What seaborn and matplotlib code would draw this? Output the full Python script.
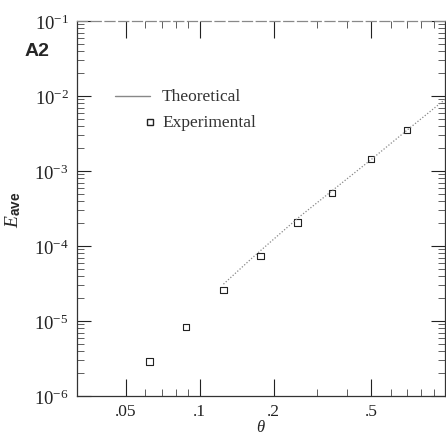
import matplotlib
matplotlib.use("Agg")
import matplotlib.pyplot as plt
import matplotlib.ticker as mticker
import seaborn as sns
import pandas as pd

# Data
theta_exp = [0.0625, 0.088, 0.125, 0.177, 0.25, 0.347, 0.50, 0.70]
E_exp = [2.9e-6, 8.3e-6, 2.6e-5, 7.4e-5, 2.05e-4, 5.1e-4, 1.45e-3, 3.5e-3]

theta_theory = [0.125, 0.165, 0.255, 0.50, 0.70, 1.0]
E_theory = [3.1e-5, 7.1e-5, 2.45e-4, 1.42e-3, 3.5e-3, 9.0e-3]

x_ticks = [0.05, 0.1, 0.2, 0.5]
x_ticklabels = [".05", ".1", ".2", ".5"]
y_ticks = [1e-6, 1e-5, 1e-4, 1e-3, 1e-2, 1e-1]
y_ticklabels = [r"$10^{-6}$", r"$10^{-5}$", r"$10^{-4}$", r"$10^{-3}$", r"$10^{-2}$", r"$10^{-1}$"]
legend_labels = ["Theoretical", "Experimental"]

sns.set_style("ticks")
plt.rcParams["font.family"] = ["Liberation Serif", "DejaVu Serif"]
plt.rcParams["mathtext.fontset"] = "custom"
plt.rcParams["mathtext.rm"] = "Liberation Serif"
plt.rcParams["mathtext.it"] = "Liberation Serif:italic"
plt.rcParams["mathtext.bf"] = "Liberation Sans:bold"

df_exp = pd.DataFrame({"theta": theta_exp, "E": E_exp})
df_th = pd.DataFrame({"theta": theta_theory, "E": E_theory})

fig = plt.figure(figsize=(4.46, 4.35), dpi=100)
ax = fig.add_axes([77 / 446, 1 - 397 / 435, 368 / 446, 375 / 435])

sns.lineplot(data=df_th, x="theta", y="E", ax=ax, color="#888888",
             linestyle=(0, (1, 1.5)), linewidth=0.9, legend=False)
sns.scatterplot(data=df_exp, x="theta", y="E", ax=ax, marker="s", s=22,
                facecolor="none", edgecolor="#222222", linewidth=0.8, legend=False)

ax.set_xscale("log")
ax.set_yscale("log")
ax.set_xlim(10 ** -1.5, 1.0)
ax.set_ylim(1e-6, 1e-1)

ax.set_xticks(x_ticks)
ax.set_xticklabels(x_ticklabels)
ax.xaxis.set_minor_locator(mticker.FixedLocator([0.06, 0.07, 0.08, 0.09, 0.3, 0.4, 0.6, 0.7, 0.8, 0.9]))
ax.xaxis.set_minor_formatter(mticker.NullFormatter())
ax.set_yticks(y_ticks)
ax.set_yticklabels(y_ticklabels)
ax.yaxis.set_minor_locator(mticker.LogLocator(base=10, subs=range(2, 10), numticks=20))
ax.yaxis.set_minor_formatter(mticker.NullFormatter())

ax.tick_params(axis="x", which="major", direction="in", length=12, width=0.8,
               top=True, labelsize=12.5, colors="#222222", pad=5)
ax.tick_params(axis="y", which="major", direction="in", length=10, width=0.8,
               right=True, labelsize=13.5, colors="#222222", pad=6)
ax.tick_params(axis="both", which="minor", direction="in", length=5, width=0.6,
               top=True, right=True, colors="#444444")
for sp in ax.spines.values():
    sp.set_linewidth(0.9)
    sp.set_color("#333333")
ax.spines["top"].set_color("#888888")
ax.spines["top"].set_linestyle((0, (8, 3)))

ax.set_xlabel(r"$\theta$", fontsize=12, labelpad=0)
ax.set_ylabel(r"$E_{\mathbf{ave}}$", fontsize=14, labelpad=8)

# legend drawn as key samples in axes coordinates
ax.plot([0.103, 0.198], [0.80, 0.80], transform=ax.transAxes, color="#888888",
        linewidth=1.0)
ax.plot([0.198], [0.731], transform=ax.transAxes, marker="s", markersize=4,
        markerfacecolor="none", markeredgecolor="#222222", linestyle="none")
ax.text(0.231, 0.80, legend_labels[0], transform=ax.transAxes, fontsize=12.5,
        va="center", ha="left", color="#333333")
ax.text(0.231, 0.731, legend_labels[1], transform=ax.transAxes, fontsize=12.5,
        va="center", ha="left", color="#333333")

fig.text(25 / 446, 1 - 52 / 435, "A2", fontsize=14, fontweight="bold",
         family="Liberation Sans", va="center", ha="left")

fig.savefig("out.png", dpi=100)
